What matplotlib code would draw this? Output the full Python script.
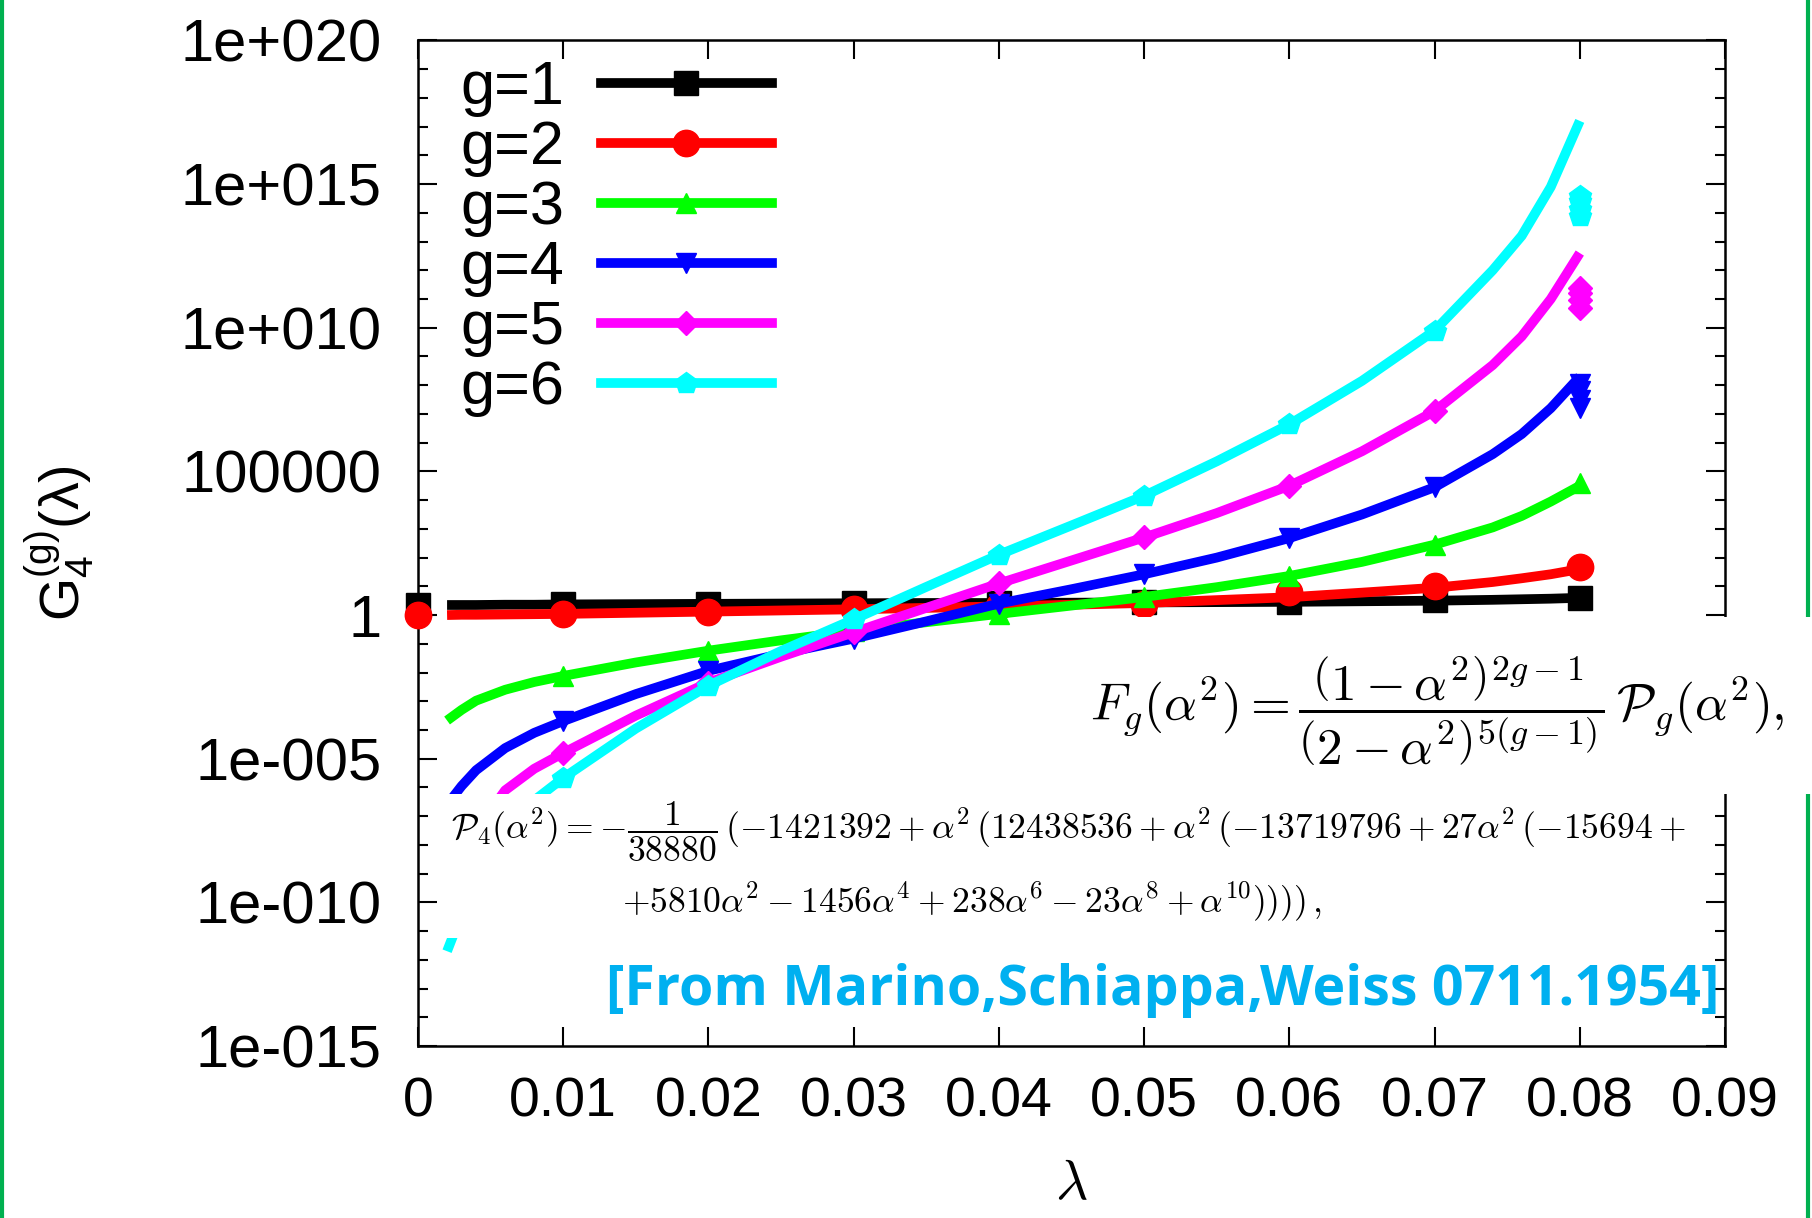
import numpy as np
import matplotlib
matplotlib.use("Agg")
import matplotlib.pyplot as plt
from matplotlib.patches import Rectangle
from matplotlib.lines import Line2D
from matplotlib.ticker import FixedLocator, NullFormatter

plt.rcParams['font.family'] = ['Liberation Sans', 'DejaVu Sans']
plt.rcParams['mathtext.fontset'] = 'custom'
plt.rcParams['mathtext.rm'] = 'Liberation Sans'
plt.rcParams['mathtext.it'] = 'Liberation Sans:italic'

# ---- data: log10 of G_4^(g)(lambda) ----
line_x = [0.002, 0.003, 0.004, 0.006, 0.008, 0.01, 0.015, 0.02, 0.025, 0.03, 0.035,
          0.04, 0.045, 0.05, 0.055, 0.06, 0.065, 0.07, 0.074, 0.076, 0.078, 0.08]

g1_line = [0.35, 0.35, 0.35, 0.36, 0.36, 0.37, 0.38, 0.39, 0.40, 0.41, 0.42,
           0.42, 0.43, 0.44, 0.45, 0.46, 0.48, 0.50, 0.53, 0.55, 0.57, 0.60]
g2_line = [0.0, 0.01, 0.01, 0.02, 0.03, 0.04, 0.08, 0.12, 0.16, 0.20, 0.25,
           0.30, 0.36, 0.42, 0.52, 0.62, 0.78, 0.95, 1.15, 1.28, 1.42, 1.60]
g3_line = [-3.67, -3.3, -2.98, -2.6, -2.33, -2.12, -1.65, -1.24, -0.88, -0.55, -0.25,
           0.04, 0.33, 0.63, 0.97, 1.36, 1.85, 2.45, 3.05, 3.45, 3.95, 4.5]
g4_line = [-6.6, -5.95, -5.4, -4.63, -4.1, -3.69, -2.75, -1.94, -1.35, -0.82, -0.22,
           0.4, 0.9, 1.42, 2.0, 2.68, 3.5, 4.45, 5.6, 6.3, 7.2, 8.3]
g5_line = [-9.5, -8.3, -7.5, -6.1, -5.35, -4.8, -3.5, -2.35, -1.45, -0.6, 0.25,
           1.1, 1.9, 2.7, 3.55, 4.5, 5.7, 7.1, 8.7, 9.7, 11.0, 12.6]
g6_line = [-11.7, -10.4, -9.4, -7.6, -6.45, -5.67, -3.95, -2.46, -1.25, -0.15, 0.98,
           2.1, 3.12, 4.15, 5.35, 6.64, 8.15, 9.9, 12.0, 13.2, 14.9, 17.2]

pts_x_all = [0.0, 0.01, 0.02, 0.03, 0.04, 0.05, 0.06, 0.07, 0.08]
g1_pts = [0.35, 0.40, 0.40, 0.42, 0.43, 0.45, 0.47, 0.52, 0.60]
g2_pts = [0.0, 0.03, 0.12, 0.20, 0.30, 0.40, 0.80, 1.00, 1.67]

pts_x = [0.01, 0.02, 0.03, 0.04, 0.05, 0.06, 0.07]
g3_pts = [-2.12, -1.24, -0.55, 0.04, 0.63, 1.36, 2.45]
g4_pts = [-3.69, -1.94, -0.82, 0.4, 1.42, 2.68, 4.45]
g5_pts = [-4.8, -2.35, -0.6, 1.1, 2.7, 4.5, 7.1]
g6_pts = [-5.67, -2.46, -0.15, 2.1, 4.15, 6.64, 9.9]

# several estimates at lambda = 0.08
end_x = 0.08
g3_end = [4.6]
g4_end = [7.2, 7.5, 7.8, 8.05]
g5_end = [10.7, 10.95, 11.2, 11.4]
g6_end = [13.9, 14.15, 14.4, 14.6]

labels = ["g=1", "g=2", "g=3", "g=4", "g=5", "g=6"]
colors = ["#000000", "#ff0000", "#00ff00", "#0000ff", "#ff00ff", "#00ffff"]
markers = ["s", "o", "^", "v", "D", "p"]
msizes = [17, 19, 15, 15, 12, 16]

y_tick_exp = [-15, -10, -5, 0, 5, 10, 15, 20]
y_tick_labels = ["1e-015", "1e-010", "1e-005", "1", "100000", "1e+010", "1e+015", "1e+020"]
x_ticks = [0, 0.01, 0.02, 0.03, 0.04, 0.05, 0.06, 0.07, 0.08, 0.09]
x_tick_labels = ["0", "0.01", "0.02", "0.03", "0.04", "0.05", "0.06", "0.07", "0.08", "0.09"]

lines = [g1_line, g2_line, g3_line, g4_line, g5_line, g6_line]
points = [(pts_x_all, g1_pts), (pts_x_all, g2_pts),
          (pts_x + [end_x] * len(g3_end), g3_pts + g3_end),
          (pts_x + [end_x] * len(g4_end), g4_pts + g4_end),
          (pts_x + [end_x] * len(g5_end), g5_pts + g5_end),
          (pts_x + [end_x] * len(g6_end), g6_pts + g6_end)]

fig = plt.figure(figsize=(18.12, 12.18), dpi=100)
ax = fig.add_axes([0.2307, 0.1412, 0.7213, 0.8256])

handles = []
for i in range(6):
    z = 2 + i
    ax.plot(line_x, 10.0 ** np.array(lines[i]), color=colors[i], lw=7,
            solid_capstyle='butt', zorder=z)
    px, py = points[i]
    ax.plot(px, 10.0 ** np.array(py), ls='none', marker=markers[i], ms=msizes[i],
            color=colors[i], clip_on=False, zorder=z)
    handles.append(Line2D([], [], color=colors[i], lw=7, marker=markers[i],
                          ms=msizes[i], solid_capstyle='projecting'))

ax.set_yscale('log')
ax.set_xlim(0, 0.09)
ax.set_ylim(1e-15, 1e20)
ax.yaxis.set_major_locator(FixedLocator([10.0 ** e for e in y_tick_exp]))
ax.set_yticklabels(y_tick_labels)
ax.yaxis.set_minor_locator(FixedLocator([10.0 ** e for e in range(-15, 21)]))
ax.yaxis.set_minor_formatter(NullFormatter())
ax.set_xticks(x_ticks)
ax.set_xticklabels(x_tick_labels)
ax.tick_params(which='both', direction='in', top=True, right=True, width=1.5)
ax.tick_params(which='major', length=14)
ax.tick_params(which='minor', length=7)
ax.tick_params(axis='y', pad=26, labelsize=43)
ax.tick_params(axis='x', pad=22, labelsize=40)
for sp in ax.spines.values():
    sp.set_linewidth(1.8)

ax.set_xlabel(r'$\lambda$', fontsize=40, math_fontfamily='cm', va='center')
ax.xaxis.set_label_coords(0.5, -0.138)
ax.set_ylabel(r'$\mathregular{G_4^{(g)}(\lambda)}$', fontsize=40, va='center')
ax.yaxis.set_label_coords(-0.275, 0.5)

leg = ax.legend(handles, labels, loc='upper left', bbox_to_anchor=(460 / 1812, 1 - 60 / 1218),
                bbox_transform=fig.transFigure, frameon=False, markerfirst=False,
                handlelength=2.8, handletextpad=0.6, labelspacing=0.05, borderpad=0,
                borderaxespad=0, fontsize=44, numpoints=1)

# slide decoration: green edges
for xe in [0.0012, 0.9978]:
    fig.add_artist(Line2D([xe, xe], [0, 1], transform=fig.transFigure,
                          color='#00b050', lw=3, zorder=5))

# white boxes with the pasted formulas
fig.add_artist(Rectangle((0.585, 0.348), 0.415, 0.1453, transform=fig.transFigure,
                         facecolor='white', edgecolor='none', zorder=10))
fig.add_artist(Rectangle((0.2428, 0.2299), 0.698, 0.1182, transform=fig.transFigure,
                         facecolor='white', edgecolor='none', zorder=10))

fig.text(0.6015, 0.416,
         r'$F_g(\alpha^2) = \dfrac{\left(1-\alpha^2\right)^{2g-1}}{\left(2-\alpha^2\right)^{5(g-1)}}\,\mathcal{P}_g(\alpha^2),$',
         fontsize=37, math_fontfamily='cm', ha='left', va='center', zorder=11)
fig.text(0.249, 0.317,
         r'$\mathcal{P}_4(\alpha^2) = -\dfrac{1}{38880}\,(-1421392+\alpha^2\,(12438536+\alpha^2\,(-13719796+27\alpha^2\,(-15694+$',
         fontsize=25.6, math_fontfamily='cm', ha='left', va='center', zorder=11)
fig.text(0.343, 0.26,
         r'$+5810\alpha^2-1456\alpha^4+238\alpha^6-23\alpha^8+\alpha^{10}))))\,,$',
         fontsize=25.6, math_fontfamily='cm', ha='left', va='center', zorder=11)

fig.text(0.949, 0.187, '[From Marino,Schiappa,Weiss 0711.1954]', color='#00b0f0',
         fontsize=40, fontweight='bold', family='Open Sans', ha='right', va='center', zorder=11)

fig.savefig('out.png', dpi=100)
